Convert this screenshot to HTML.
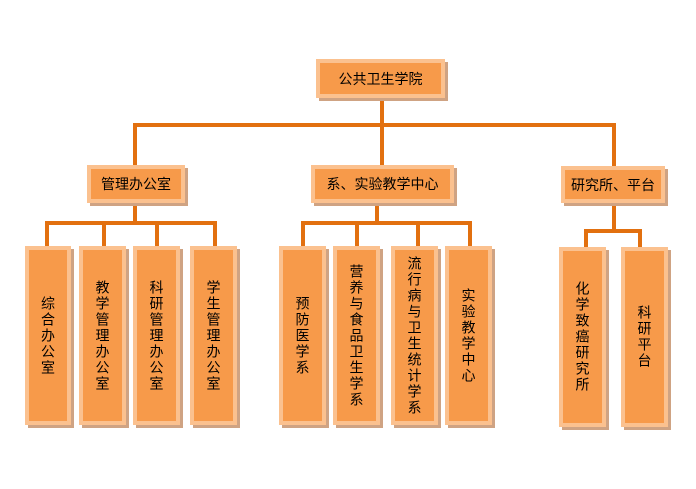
<!DOCTYPE html>
<html><head><meta charset="utf-8"><style>
body{margin:0;width:696px;height:489px;background:#fff;position:relative;overflow:hidden;font-family:"Liberation Sans","Noto Sans CJK SC","WenQuanYi Zen Hei",sans-serif;color:#000}
.b{position:absolute;box-sizing:border-box;background:#f79a4a;border:4px solid #fbc18f;box-shadow:3px 3px 0 #cfa383;display:flex;align-items:center;justify-content:center;font-size:14px}
.v{writing-mode:vertical-rl;letter-spacing:2px;font-size:14px}
.l{position:absolute;background:#e2700f}
</style></head><body>
<div class="l" style="left:380px;top:98px;width:4px;height:67px"></div>
<div class="l" style="left:133px;top:123px;width:483px;height:4px"></div>
<div class="l" style="left:133px;top:123px;width:4px;height:42px"></div>
<div class="l" style="left:612px;top:123px;width:4px;height:43px"></div>
<div class="l" style="left:133px;top:203px;width:4px;height:20px"></div>
<div class="l" style="left:45px;top:221px;width:172px;height:4px"></div>
<div class="l" style="left:45px;top:221px;width:4px;height:26px"></div>
<div class="l" style="left:102px;top:221px;width:4px;height:26px"></div>
<div class="l" style="left:155px;top:221px;width:4px;height:26px"></div>
<div class="l" style="left:213px;top:221px;width:4px;height:26px"></div>
<div class="l" style="left:375px;top:203px;width:4px;height:20px"></div>
<div class="l" style="left:301px;top:221px;width:171px;height:4px"></div>
<div class="l" style="left:301px;top:221px;width:4px;height:26px"></div>
<div class="l" style="left:355px;top:221px;width:4px;height:26px"></div>
<div class="l" style="left:416px;top:221px;width:4px;height:26px"></div>
<div class="l" style="left:468px;top:221px;width:4px;height:26px"></div>
<div class="l" style="left:612px;top:203px;width:4px;height:28px"></div>
<div class="l" style="left:584px;top:229px;width:58px;height:4px"></div>
<div class="l" style="left:584px;top:229px;width:4px;height:19px"></div>
<div class="l" style="left:638px;top:229px;width:4px;height:19px"></div>

<div class="b" style="left:316px;top:59px;width:129px;height:39px">公共卫生学院</div>
<div class="b" style="left:87px;top:165px;width:98px;height:38px">管理办公室</div>
<div class="b" style="left:311px;top:165px;width:143px;height:38px">系、实验教学中心</div>
<div class="b" style="left:561px;top:166px;width:104px;height:37px">研究所、平台</div>

<div class="b" style="left:25px;top:246px;width:46px;height:179px"><span class="v">综合办公室</span></div>
<div class="b" style="left:79px;top:246px;width:47px;height:179px"><span class="v">教学管理办公室</span></div>
<div class="b" style="left:133px;top:246px;width:47px;height:179px"><span class="v">科研管理办公室</span></div>
<div class="b" style="left:190px;top:246px;width:47px;height:179px"><span class="v">学生管理办公室</span></div>
<div class="b" style="left:279px;top:246px;width:47px;height:179px"><span class="v">预防医学系</span></div>
<div class="b" style="left:333px;top:246px;width:47px;height:179px"><span class="v">营养与食品卫生学系</span></div>
<div class="b" style="left:391px;top:246px;width:47px;height:179px"><span class="v">流行病与卫生统计学系</span></div>
<div class="b" style="left:445px;top:246px;width:47px;height:179px"><span class="v">实验教学中心</span></div>
<div class="b" style="left:559px;top:247px;width:47px;height:180px"><span class="v">化学致癌研究所</span></div>
<div class="b" style="left:621px;top:247px;width:47px;height:180px"><span class="v">科研平台</span></div>
</body></html>
